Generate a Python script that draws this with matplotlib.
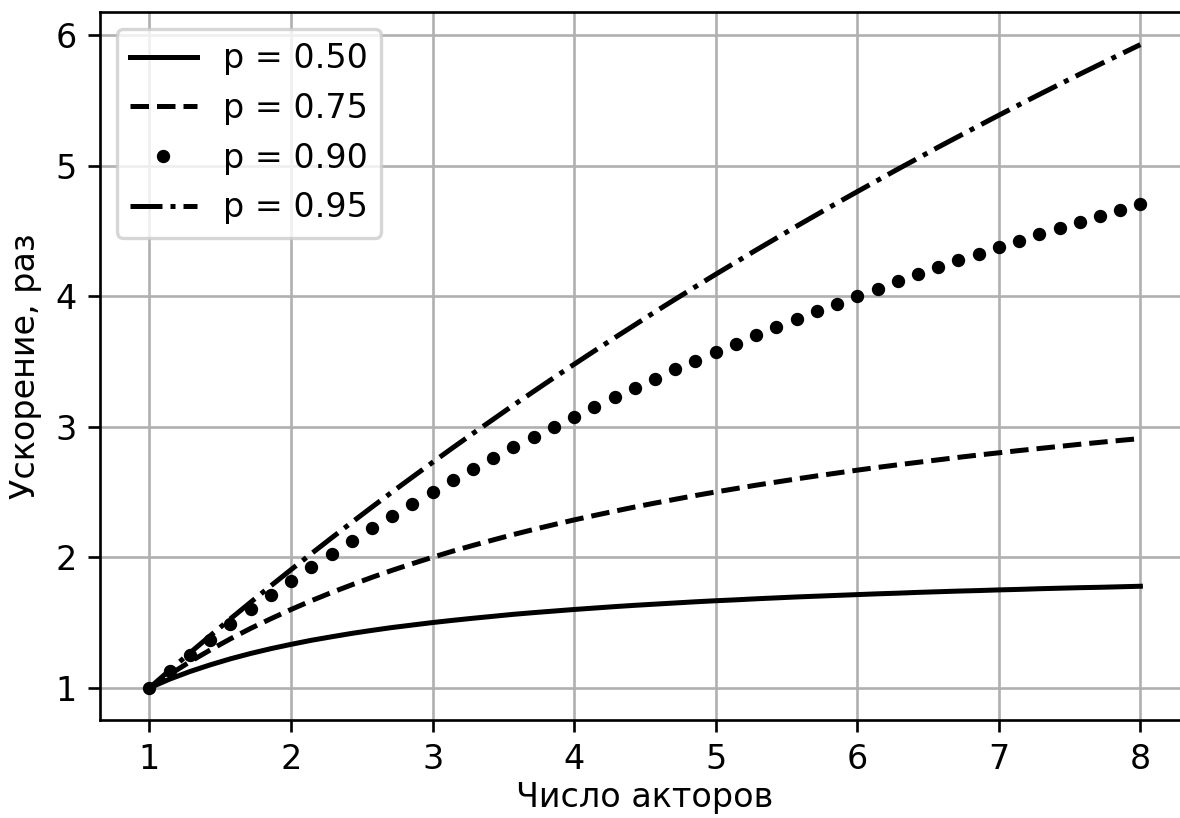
#!/usr/bin/env python3
"""Speedup vs number of actors for several parallel fractions."""

import matplotlib
matplotlib.use("Agg")
import matplotlib.pyplot as plt

# number of actors (sample points)
actors = [
    1.000, 1.143, 1.286, 1.429, 1.571, 1.714, 1.857, 2.000, 2.143, 2.286,
    2.429, 2.571, 2.714, 2.857, 3.000, 3.143, 3.286, 3.429, 3.571, 3.714,
    3.857, 4.000, 4.143, 4.286, 4.429, 4.571, 4.714, 4.857, 5.000, 5.143,
    5.286, 5.429, 5.571, 5.714, 5.857, 6.000, 6.143, 6.286, 6.429, 6.571,
    6.714, 6.857, 7.000, 7.143, 7.286, 7.429, 7.571, 7.714, 7.857, 8.000,
]

speedup_050 = [
    1.000, 1.067, 1.125, 1.176, 1.222, 1.263, 1.300, 1.333, 1.364, 1.391,
    1.417, 1.440, 1.462, 1.481, 1.500, 1.517, 1.533, 1.548, 1.563, 1.576,
    1.588, 1.600, 1.611, 1.622, 1.632, 1.641, 1.650, 1.659, 1.667, 1.674,
    1.682, 1.689, 1.696, 1.702, 1.708, 1.714, 1.720, 1.725, 1.731, 1.736,
    1.741, 1.745, 1.750, 1.754, 1.759, 1.763, 1.767, 1.770, 1.774, 1.778,
]

speedup_075 = [
    1.000, 1.103, 1.200, 1.290, 1.375, 1.455, 1.529, 1.600, 1.667, 1.730,
    1.789, 1.846, 1.900, 1.951, 2.000, 2.047, 2.091, 2.133, 2.174, 2.213,
    2.250, 2.286, 2.320, 2.353, 2.385, 2.415, 2.444, 2.473, 2.500, 2.526,
    2.552, 2.576, 2.600, 2.623, 2.645, 2.667, 2.688, 2.708, 2.727, 2.746,
    2.765, 2.783, 2.800, 2.817, 2.833, 2.849, 2.865, 2.880, 2.895, 2.909,
]

speedup_090 = [
    1.000, 1.127, 1.250, 1.370, 1.486, 1.600, 1.711, 1.818, 1.923, 2.025,
    2.125, 2.222, 2.317, 2.410, 2.500, 2.588, 2.674, 2.759, 2.841, 2.921,
    3.000, 3.077, 3.152, 3.226, 3.298, 3.368, 3.438, 3.505, 3.571, 3.636,
    3.700, 3.762, 3.824, 3.883, 3.942, 4.000, 4.057, 4.112, 4.167, 4.220,
    4.273, 4.324, 4.375, 4.425, 4.474, 4.522, 4.569, 4.615, 4.661, 4.706,
]

speedup_095 = [
    1.000, 1.135, 1.268, 1.399, 1.528, 1.655, 1.781, 1.905, 2.027, 2.148,
    2.267, 2.384, 2.500, 2.614, 2.727, 2.839, 2.949, 3.057, 3.165, 3.270,
    3.375, 3.478, 3.580, 3.681, 3.780, 3.879, 3.976, 4.072, 4.167, 4.260,
    4.353, 4.444, 4.535, 4.624, 4.713, 4.800, 4.886, 4.972, 5.056, 5.140,
    5.222, 5.304, 5.385, 5.465, 5.544, 5.622, 5.699, 5.775, 5.851, 5.926,
]

DPI = 240
fig = plt.figure(figsize=(1180 / DPI, 818 / DPI), dpi=DPI)
# the right side of the axes runs past the image edge, as in the original crop
ax = fig.add_axes([0.0847, 0.1198, 0.9237, 0.865])

ax.plot(actors, speedup_050, "k-", label="p = 0.50")
ax.plot(actors, speedup_075, "k--", label="p = 0.75")
ax.plot(actors, speedup_090, "k.", label="p = 0.90")
ax.plot(actors, speedup_095, "k-.", label="p = 0.95")

ax.set_xlabel("Число акторов", labelpad=1.5)
ax.set_ylabel("Ускорение, раз")
ax.grid(True)
ax.legend(loc="upper left")

fig.savefig("out.png", dpi=DPI)
